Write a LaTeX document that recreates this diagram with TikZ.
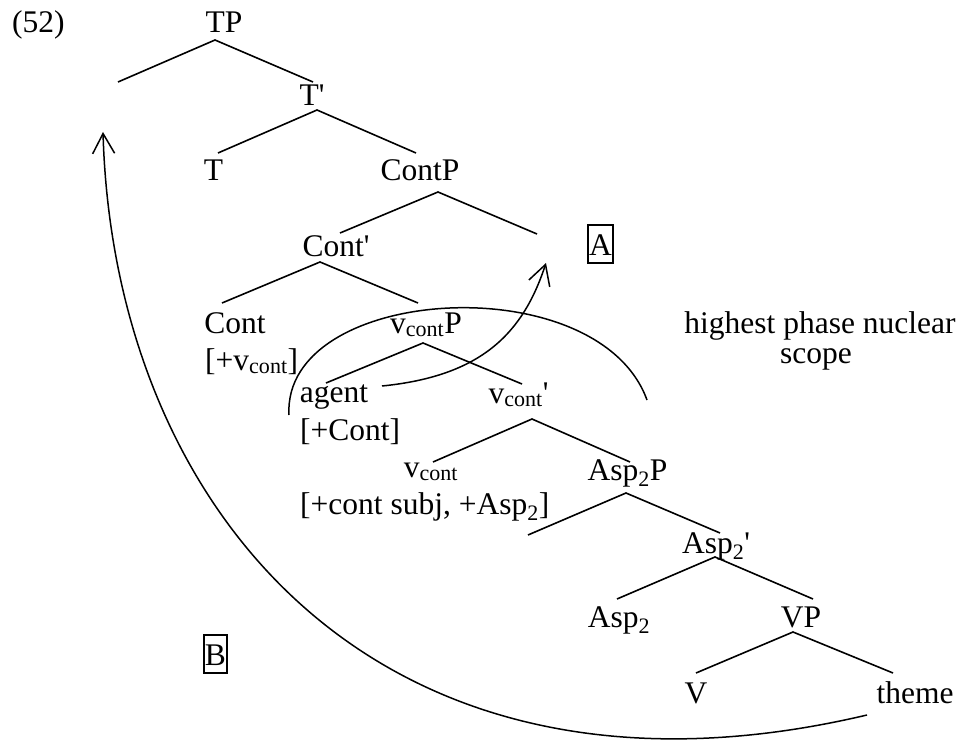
\documentclass[tikz,border=0pt]{standalone}
\usepackage{fontspec}
\setmainfont{Liberation Serif}
\usetikzlibrary{arrows.meta,calc}
\newcommand{\sbs}[1]{\textsubscript{#1}}
\newcommand{\prm}{\textquotesingle}
\tikzset{
  lab/.style={inner sep=0pt, anchor=base},
  labw/.style={inner sep=0pt, anchor=base west},
  boxlab/.style={draw, line width=1.4pt, anchor=base, inner xsep=1pt, inner ysep=0pt, text height=30pt, text depth=8pt},
  br/.style={line width=1.6pt},
  mv/.style={line width=1.5pt, -{Straight Barb[length=20pt,width=22pt]}}
}
\begin{document}
\begin{tikzpicture}[x=1pt, y=-1pt, font=\fontsize{31.5}{37.8}\selectfont]
  \useasboundingbox (0,0) rectangle (964,749);
  %Labels
  \node[labw] (ex) at (12,33) {(52)};
  \node[lab] (TP) at (224,33) {TP};
  \node[lab] (Tb) at (312,106) {T\prm};
  \node[lab] (T) at (213.5,180) {T};
  \node[lab] (ContP) at (420,180) {ContP};
  \node[lab] (Contb) at (336,256) {Cont\prm};
  \node[lab] (Cont) at (235,333) {Cont};
  \node[labw] (Contf) at (205,370) {[+v\sbs{cont}]};
  \node[lab] (vP) at (426,333) {v\sbs{cont}P};
  \node[lab] (agent) at (334,402) {agent};
  \node[labw] (agentf) at (300,440) {[+Cont]};
  \node[lab] (vb) at (518.5,403) {v\sbs{cont}\prm};
  \node[lab] (v) at (431,477) {v\sbs{cont}};
  \node[labw] (vf) at (300,514) {[+cont subj, +Asp\sbs{2}]};
  \node[lab] (AspP) at (627.5,480) {Asp\sbs{2}P};
  \node[lab] (Aspb) at (716,553) {Asp\sbs{2}\prm};
  \node[lab] (Asp) at (619,627) {Asp\sbs{2}};
  \node[lab] (VP) at (801,627) {VP};
  \node[lab] (V) at (696,703) {V};
  \node[lab] (theme) at (915,703) {theme};
  \node[lab] (scope1) at (820,333) {highest phase nuclear};
  \node[lab] (scope2) at (816,363) {scope};
  \node[boxlab] (A) at (600.5,255) {A};
  \node[boxlab] (B) at (215.5,665) {B};
  %Empty positions
  \coordinate (TP-spec) at (118,82);
  \coordinate (ContP-comp) at (537,234);
  \coordinate (AspP-spec) at (528,535);
  \coordinate (A-tip) at (546,263);
  \coordinate (B-tip) at (103,132);
  %Branches
  \draw[br] (TP-spec) -- ([shift={(-9,7)}]TP.base) -- ([shift={(1,-24)}]Tb.base);
  \draw[br] ([shift={(4.5,-27)}]T.base) -- ([shift={(5,4)}]Tb.base) -- ([shift={(-4,-27)}]ContP.base);
  \draw[br] ([shift={(4,-23)}]Contb.base) -- ([shift={(18,12)}]ContP.base) -- (ContP-comp);
  \draw[br] ([shift={(-13,-30)}]Cont.base) -- ([shift={(-16,6)}]Contb.base) -- ([shift={(-8,-30)}]vP.base);
  \draw[br] ([shift={(-8,-19)}]agent.base) -- ([shift={(-3,10)}]vP.base) -- ([shift={(3.5,-19)}]vb.base);
  \draw[br] ([shift={(2,-15)}]v.base) -- ([shift={(13.5,16)}]vb.base) -- ([shift={(2.5,-18)}]AspP.base);
  \draw[br] (AspP-spec) -- ([shift={(-1.5,13)}]AspP.base) -- ([shift={(4,-20)}]Aspb.base);
  \draw[br] ([shift={(-2,-28)}]Asp.base) -- ([shift={(-1,4)}]Aspb.base) -- ([shift={(12,-28)}]VP.base);
  \draw[br] ([shift={(0,-30)}]V.base) -- ([shift={(-8,5)}]VP.base) -- ([shift={(-22,-30)}]theme.base);
  %Nuclear scope
  \draw[mv, -] (289,415) .. controls (282,285) and (598,265) .. (647,400);
  %Movement
  \draw[mv] ([shift={(48,-16)}]agent.base) .. controls (482,376) and (523,333) .. (A-tip);
  \draw[mv] ([shift={(-48,12)}]theme.base) .. controls (380,830) and (114,512) .. (B-tip);
\end{tikzpicture}
\end{document}
